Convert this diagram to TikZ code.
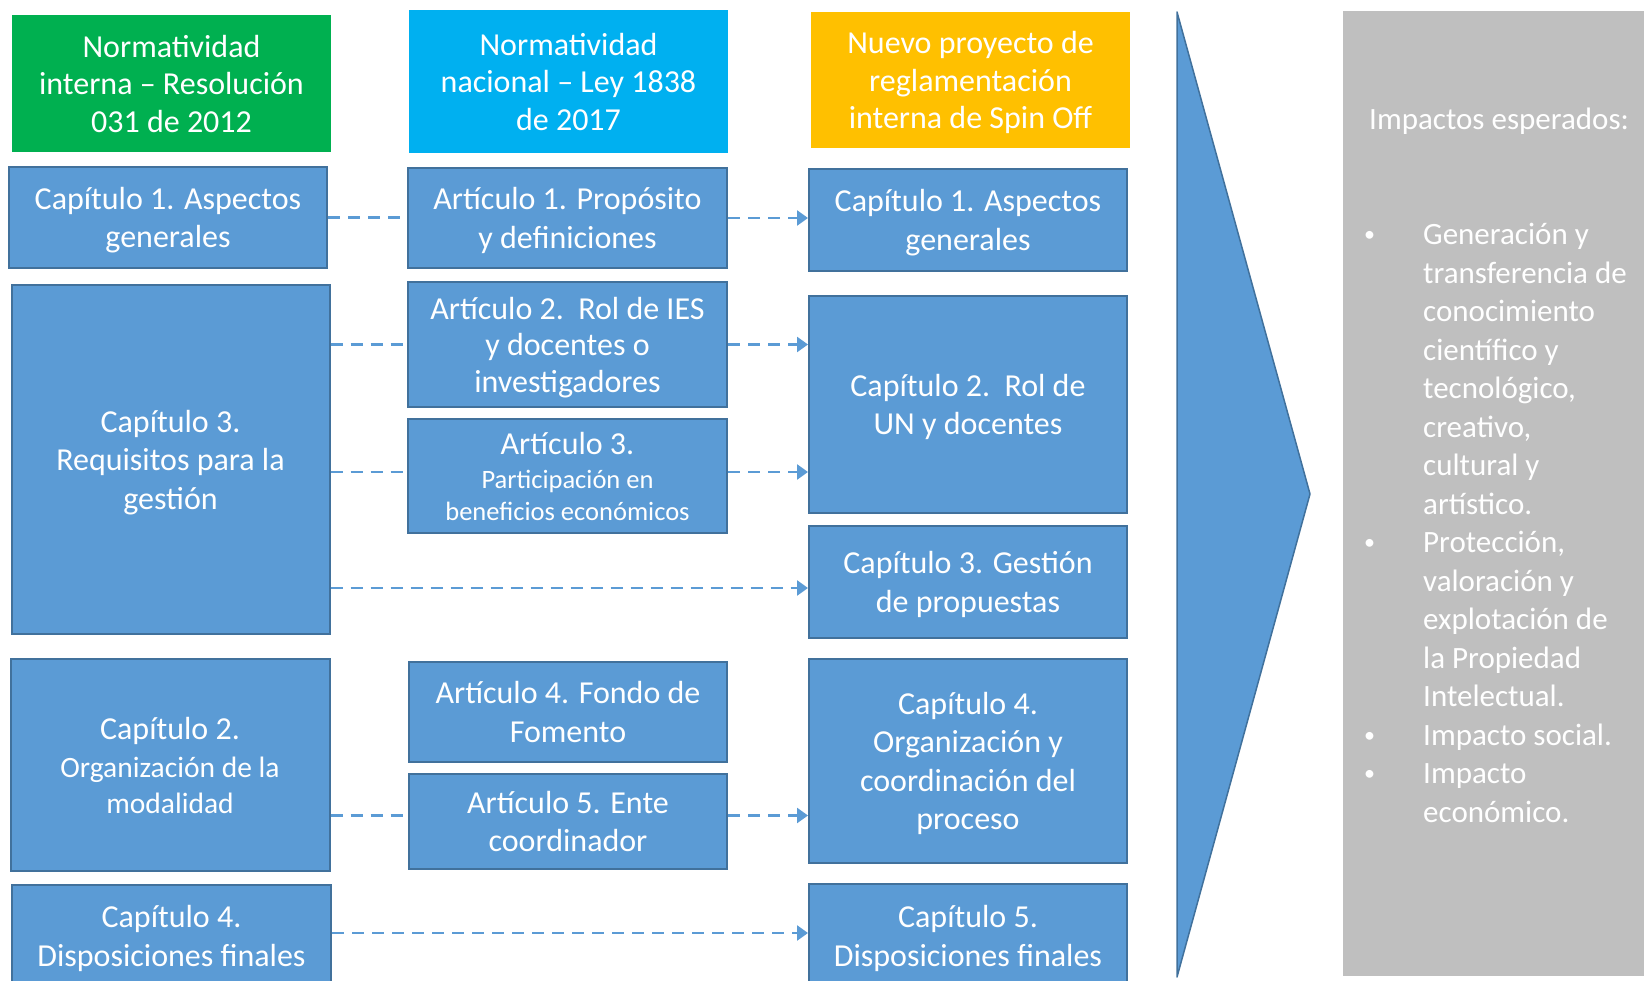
\documentclass[tikz,border=0pt]{standalone}
\usepackage{fontspec}
\setmainfont{Carlito}
\usetikzlibrary{arrows.meta,calc}
\definecolor{bboxfill}{HTML}{5B9BD5}
\definecolor{bboxline}{HTML}{41719C}
\definecolor{hgreen}{HTML}{00B050}
\definecolor{hcyan}{HTML}{00B0F0}
\definecolor{hyellow}{HTML}{FFC000}
\definecolor{gbox}{HTML}{BFBFBF}
\newcommand{\smbul}{\raisebox{3pt}{\fontsize{22}{22}\selectfont •}}
\begin{document}
\begin{tikzpicture}[x=1pt,y=-1pt,
 bx/.style={draw=bboxline, line width=2pt, fill=bboxfill, text=white, align=center, inner sep=0pt, text depth=0pt, font=\fontsize{32}{38.5}\selectfont},
 hdr/.style={inner sep=0pt, text=white, align=center, text depth=0pt, font=\fontsize{32}{37.5}\selectfont},
 dl/.style={draw=bboxfill, line width=2.5pt, dash pattern=on 12pt off 8pt},
 da/.style={dl, -{Triangle[length=11pt,width=15pt]}}]
\clip (0,0) rectangle (1644,981);
\fill[white] (0,0) rectangle (1644,981);
% headers
\node[hdr, fill=hgreen, minimum width=319pt, minimum height=137pt] (h1) at (171.5,83.5) {Normatividad\\interna -- Resolución\\031 de 2012};
\node[hdr, fill=hcyan, minimum width=319pt, minimum height=143pt] (h2) at (568.5,81.5) {Normatividad\\nacional -- Ley 1838\\de 2017};
\node[hdr, fill=hyellow, minimum width=319pt, minimum height=136pt] (h3) at (970.5,80) {Nuevo proyecto de\\reglamentación\\interna de Spin Off};
% left column
\node[bx, minimum width=318pt, minimum height=101pt] (L1) at (168,217.5) {Capítulo 1. Aspectos\\generales};
\node[bx, minimum width=318pt, minimum height=349pt] (L3) at (170.5,459.5) {Capítulo 3.\\Requisitos para la\\gestión};
\node[bx, minimum width=319pt, minimum height=212pt] (L2) at (170,765) {Capítulo 2.\\{\fontsize{29.5}{35}\selectfont Organización de la}\\[-3pt]{\fontsize{29.5}{35}\selectfont modalidad}};
\node[bx, minimum width=319pt, minimum height=102pt] (L4) at (171.5,936) {Capítulo 4.\\Disposiciones finales};
% middle column
\node[bx, minimum width=319pt, minimum height=100pt] (M1) at (567.5,218) {Artículo 1. Propósito\\y definiciones};
\node[bx, minimum width=319pt, minimum height=125pt] (M2) at (567.5,344.5) {Artículo 2.\ \ Rol de IES\\[-2pt]y docentes o\\[-2pt]investigadores};
\node[bx, minimum width=319pt, minimum height=114pt] (M3) at (567.5,476) {Artículo 3.\\[-4pt]{\fontsize{26.5}{31.7}\selectfont Participación en}\\[-7pt]{\fontsize{26.5}{31.7}\selectfont beneficios económicos}};
\node[bx, minimum width=318pt, minimum height=100pt] (M4) at (568,712) {Artículo 4. Fondo de\\Fomento};
\node[bx, minimum width=318pt, minimum height=95pt] (M5) at (568,821.5) {Artículo 5. Ente\\coordinador};
% right column
\node[bx, minimum width=318pt, minimum height=102pt] (R1) at (968,220) {Capítulo 1. Aspectos\\generales};
\node[bx, minimum width=318pt, minimum height=217pt] (R2) at (968,404.5) {Capítulo 2.\ \ Rol de\\UN y docentes};
\node[bx, minimum width=318pt, minimum height=112pt] (R3) at (968,582) {Capítulo 3. Gestión\\de propuestas};
\node[bx, minimum width=318pt, minimum height=204pt] (R4) at (968,761) {Capítulo 4.\\Organización y\\coordinación del\\proceso};
\node[bx, minimum width=318pt, minimum height=104pt] (R5) at (968,936) {Capítulo 5.\\Disposiciones finales};
% connectors
\draw[dl] (L1.east) -- (L1.east -| M1.west);
\draw[da] (M1.east) -- (M1.east -| R1.west);
\draw[dl] (M2.west -| L3.east) -- (M2.west);
\draw[da] (M2.east) -- (M2.east -| R2.west);
\draw[dl] ([yshift=4pt]M3.west -| L3.east) -- ([yshift=4pt]M3.west);
\draw[da] ([yshift=4pt]M3.east) -- ([yshift=4pt]M3.east -| R2.west);
\draw[da] ([yshift=-6pt]R3.west -| L3.east) -- ([yshift=-6pt]R3.west);
\draw[dl] ([yshift=6pt]M5.west -| L2.east) -- ([yshift=6pt]M5.west);
\draw[da] ([yshift=6pt]M5.east) -- ([yshift=6pt]M5.east -| R4.west);
\draw[da] ([yshift=3pt]L4.east) -- ([yshift=3pt]L4.east -| R5.west);
% big arrow
\draw[fill=bboxfill, draw=bboxline, line width=1.5pt, line join=round] (1177,12) -- (1310,494) -- (1177,977) -- cycle;
% impacts box
\fill[gbox] (1342.5,11) rectangle (1660,976);
\node[anchor=base west, inner sep=0pt, text=white, font=\fontsize{31}{38.5}\selectfont] (imp) at (1369,130) {Impactos esperados:};
\node[anchor=base west, inner sep=0pt, text=white, font=\fontsize{31}{38.5}\selectfont] (lst) at (1364,245) {\begin{tabular}[t]{@{}p{59pt}@{}l@{}}
\smbul&Generación y\\
&transferencia de\\
&conocimiento\\
&científico y\\
&tecnológico,\\
&creativo,\\
&cultural y\\
&artístico.\\
\smbul&Protección,\\
&valoración y\\
&explotación de\\
&la Propiedad\\
&Intelectual.\\
\smbul&Impacto social.\\
\smbul&Impacto\\
&económico.
\end{tabular}};
\end{tikzpicture}
\end{document}
